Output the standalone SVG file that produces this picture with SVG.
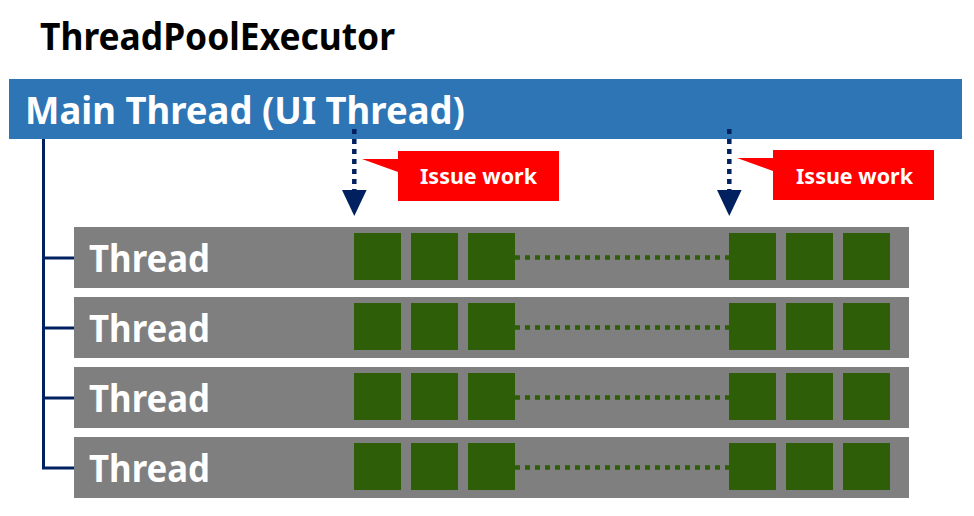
<svg xmlns="http://www.w3.org/2000/svg" width="974" height="516" viewBox="0 0 974 516">
  <defs>
    <style>
      .t { font-family: "Noto Sans", "Liberation Sans", sans-serif; font-weight: bold; }
      .bar { fill: #7F7F7F; }
      .sq { fill: #2E5E08; }
      .dots { stroke: #2E5E08; stroke-width: 4.5; stroke-dasharray: 5 5; fill: none; }
      .thread { fill: #FFFFFF; font-size: 38px; }
      .tree { stroke: #002060; stroke-width: 3; fill: none; }
      .arr { stroke: #002060; stroke-width: 4.5; stroke-dasharray: 5 5; fill: none; }
      .head { fill: #002060; }
      .callout { fill: #FF0000; }
      .ctext { fill: #FFFFFF; font-size: 22px; }
    </style>
  </defs>
  <rect width="974" height="516" fill="#FFFFFF"/>

  <text id="title" class="t" x="40" y="50" font-size="38" fill="#000000" textLength="355" lengthAdjust="spacingAndGlyphs">ThreadPoolExecutor</text>

  <g id="main-thread">
    <rect x="9" y="79" width="953" height="60" fill="#2E75B6"/>
    <text class="t" x="25" y="124" font-size="38" fill="#FFFFFF" textLength="440" lengthAdjust="spacingAndGlyphs">Main Thread (UI Thread)</text>
  </g>

  <g id="connectors">
    <path class="tree" d="M43.5 139 V469.5 M42 258 H74 M42 328 H74 M42 398 H74 M42 468 H74"/>
    <line class="arr" x1="354.3" y1="129" x2="354.3" y2="190"/>
    <polygon class="head" points="342,190 366.6,190 354.3,216"/>
    <line class="arr" x1="729.3" y1="129" x2="729.3" y2="190"/>
    <polygon class="head" points="717,190 741.6,190 729.3,216"/>
  </g>

  <g id="callout-1">
    <polygon class="callout" points="398,151 559,151 559,201 398,201 398,172 362,159 398,159"/>
    <text class="t ctext" x="420" y="184" textLength="117" lengthAdjust="spacingAndGlyphs">Issue work</text>
  </g>
  <g id="callout-2">
    <polygon class="callout" points="773,150 934,150 934,200 773,200 773,171 737,158 773,158"/>
    <text class="t ctext" x="796" y="184" textLength="117" lengthAdjust="spacingAndGlyphs">Issue work</text>
  </g>

  <g id="thread-1">
    <rect class="bar" x="74" y="227" width="835" height="61"/>
    <text class="t thread" x="89" y="272" textLength="121" lengthAdjust="spacingAndGlyphs">Thread</text>
    <rect class="sq" x="354" y="233" width="47" height="47"/>
    <rect class="sq" x="411" y="233" width="47" height="47"/>
    <rect class="sq" x="468" y="233" width="47" height="47"/>
    <line class="dots" x1="515" y1="257.5" x2="729" y2="257.5"/>
    <rect class="sq" x="729" y="233" width="47" height="47"/>
    <rect class="sq" x="786" y="233" width="47" height="47"/>
    <rect class="sq" x="843" y="233" width="47" height="47"/>
  </g>
  <g id="thread-2">
    <rect class="bar" x="74" y="297" width="835" height="61"/>
    <text class="t thread" x="89" y="342" textLength="121" lengthAdjust="spacingAndGlyphs">Thread</text>
    <rect class="sq" x="354" y="303" width="47" height="47"/>
    <rect class="sq" x="411" y="303" width="47" height="47"/>
    <rect class="sq" x="468" y="303" width="47" height="47"/>
    <line class="dots" x1="515" y1="327.5" x2="729" y2="327.5"/>
    <rect class="sq" x="729" y="303" width="47" height="47"/>
    <rect class="sq" x="786" y="303" width="47" height="47"/>
    <rect class="sq" x="843" y="303" width="47" height="47"/>
  </g>
  <g id="thread-3">
    <rect class="bar" x="74" y="367" width="835" height="61"/>
    <text class="t thread" x="89" y="412" textLength="121" lengthAdjust="spacingAndGlyphs">Thread</text>
    <rect class="sq" x="354" y="373" width="47" height="47"/>
    <rect class="sq" x="411" y="373" width="47" height="47"/>
    <rect class="sq" x="468" y="373" width="47" height="47"/>
    <line class="dots" x1="515" y1="397.5" x2="729" y2="397.5"/>
    <rect class="sq" x="729" y="373" width="47" height="47"/>
    <rect class="sq" x="786" y="373" width="47" height="47"/>
    <rect class="sq" x="843" y="373" width="47" height="47"/>
  </g>
  <g id="thread-4">
    <rect class="bar" x="74" y="437" width="835" height="61"/>
    <text class="t thread" x="89" y="482" textLength="121" lengthAdjust="spacingAndGlyphs">Thread</text>
    <rect class="sq" x="354" y="443" width="47" height="47"/>
    <rect class="sq" x="411" y="443" width="47" height="47"/>
    <rect class="sq" x="468" y="443" width="47" height="47"/>
    <line class="dots" x1="515" y1="467.5" x2="729" y2="467.5"/>
    <rect class="sq" x="729" y="443" width="47" height="47"/>
    <rect class="sq" x="786" y="443" width="47" height="47"/>
    <rect class="sq" x="843" y="443" width="47" height="47"/>
  </g>
</svg>
